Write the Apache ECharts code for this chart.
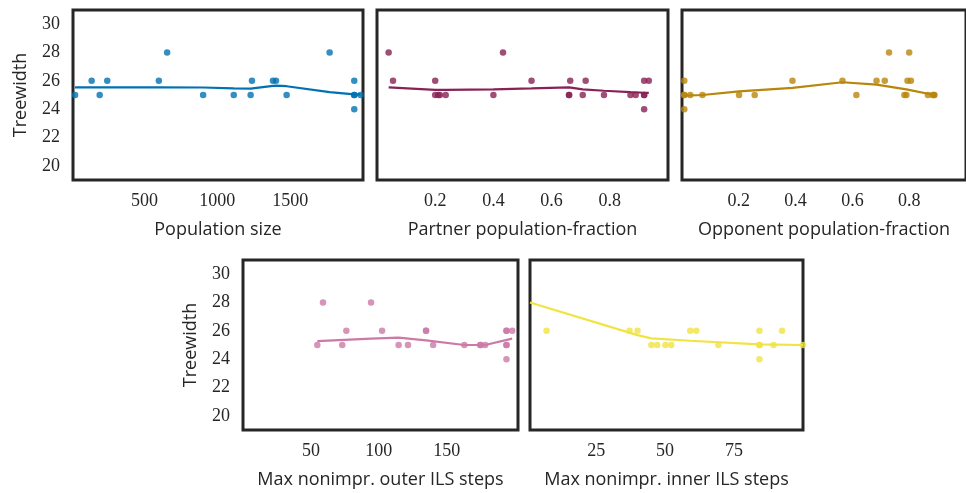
<!DOCTYPE html>
<html>
<head>
<meta charset="utf-8">
<script src="https://cdn.jsdelivr.net/npm/echarts@6/dist/echarts.min.js"></script>
<style>
  html, body { margin: 0; padding: 0; background: #fff; }
  #chart { width: 966px; height: 493px; }
</style>
</head>
<body>
<div id="chart"></div>
<script>
// tick labels
const yTicks = [20, 22, 24, 26, 28, 30];
const popTicks = [500, 1000, 1500];
const fracTicks = [0.2, 0.4, 0.6, 0.8];
const outerTicks = [50, 100, 150];
const innerTicks = [25, 50, 75];

// Population size
const popX = [24, 138, 193, 245, 599, 656, 903, 1113, 1229, 1238, 1382, 1403, 1476, 1771, 1940, 1940, 1940, 1940, 1983];
const popY = [25, 26, 25, 26, 26, 28, 25, 25, 25, 26, 26, 26, 25, 28, 26, 25, 25, 24, 25];
const popTrendX = [24, 600, 903, 1113, 1229, 1382, 1403, 1476, 1771, 1940, 1983];
const popTrendY = [25.54, 25.54, 25.53, 25.47, 25.45, 25.65, 25.66, 25.62, 25.2, 25.05, 25.05];

// Partner population-fraction
const partX = [0.04, 0.055, 0.2, 0.2, 0.21, 0.216, 0.236, 0.4, 0.433, 0.531, 0.66, 0.66, 0.664, 0.707, 0.717, 0.78, 0.871, 0.889, 0.918, 0.918, 0.918, 0.918, 0.934];
const partY = [28, 26, 26, 25, 25, 25, 25, 25, 28, 26, 25, 25, 26, 25, 26, 25, 25, 25, 25, 25, 26, 24, 26];
const partTrendX = [0.04, 0.2, 0.236, 0.4, 0.531, 0.66, 0.707, 0.78, 0.871, 0.918, 0.934];
const partTrendY = [25.54, 25.36, 25.36, 25.4, 25.47, 25.54, 25.4, 25.3, 25.2, 25.16, 25.15];

// Opponent population-fraction
const oppX = [0.008, 0.008, 0.008, 0.008, 0.029, 0.072, 0.201, 0.256, 0.389, 0.565, 0.614, 0.685, 0.714, 0.729, 0.783, 0.79, 0.794, 0.8, 0.806, 0.866, 0.883, 0.888, 0.888];
const oppY = [26, 25, 24, 25, 25, 25, 25, 25, 26, 26, 25, 26, 26, 28, 25, 25, 26, 28, 26, 25, 25, 25, 25];
const oppTrendX = [0.008, 0.072, 0.201, 0.389, 0.565, 0.685, 0.79, 0.888];
const oppTrendY = [24.95, 25.0, 25.25, 25.5, 25.9, 25.73, 25.4, 25.0];

// Max nonimpr. outer ILS steps
const outerX = [54.7, 58.9, 73.1, 76.1, 94.3, 102.4, 114.6, 121.5, 134.8, 134.8, 140, 163, 174.8, 174.8, 178.3, 194, 194, 194, 194, 194, 198.2];
const outerY = [25, 28, 25, 26, 28, 26, 25, 25, 26, 26, 25, 25, 25, 25, 25, 26, 26, 25, 25, 24, 26];
const outerTrendX = [54.7, 94.3, 114.6, 134.8, 163, 178.3, 198.2];
const outerTrendY = [25.28, 25.45, 25.52, 25.33, 25.0, 25.0, 25.45];

// Max nonimpr. inner ILS steps
const innerX = [7, 37.1, 40, 45, 47.1, 50.1, 52.2, 59.1, 61.3, 69.3, 84.2, 84.2, 84.2, 84.2, 89.3, 92.4, 100];
const innerY = [26, 26, 26, 25, 25, 25, 25, 26, 26, 25, 26, 25, 25, 24, 25, 26, 25];
const innerTrendX = [1, 40, 45, 59.1, 84.2, 100];
const innerTrendY = [28, 25.7, 25.47, 25.3, 25.05, 25.0];

const zip = (xs, ys) => xs.map((x, i) => [x, ys[i]]);

const tickFont = { fontFamily: 'Liberation Serif', fontSize: 18, color: '#262626' };
const nameFont = { fontFamily: 'Open Sans', fontSize: 18, color: '#262626' };

const panels = [
  { name: 'Population size', min: 10, max: 2000, ticks: popTicks, color: '#0072b2', x: popX, y: popY, tx: popTrendX, ty: popTrendY, rect: { left: 73, top: 10, width: 290, height: 170 }, yLabels: true },
  { name: 'Partner population-fraction', min: 0, max: 1, ticks: fracTicks, color: '#882255', x: partX, y: partY, tx: partTrendX, ty: partTrendY, rect: { left: 377, top: 10, width: 291, height: 170 }, yLabels: false },
  { name: 'Opponent population-fraction', min: 0, max: 1, ticks: fracTicks, color: '#b8860b', x: oppX, y: oppY, tx: oppTrendX, ty: oppTrendY, rect: { left: 682, top: 10, width: 292, height: 170 }, yLabels: false },
  { name: 'Max nonimpr. outer ILS steps', min: 0, max: 202.5, ticks: outerTicks, color: '#cc79a7', x: outerX, y: outerY, tx: outerTrendX, ty: outerTrendY, rect: { left: 243, top: 260, width: 275, height: 170 }, yLabels: true },
  { name: 'Max nonimpr. inner ILS steps', min: 1, max: 100, ticks: innerTicks, color: '#f0e442', x: innerX, y: innerY, tx: innerTrendX, ty: innerTrendY, rect: { left: 530, top: 260, width: 273, height: 170 }, yLabels: false }
];

const chart = echarts.init(document.getElementById('chart'), null, { renderer: 'canvas' });

const option = {
  animation: false,
  grid: panels.map(p => Object.assign({
    show: true,
    borderColor: '#262626',
    borderWidth: 3,
    backgroundColor: 'transparent'
  }, p.rect)),
  xAxis: panels.map((p, i) => ({
    type: 'value',
    gridIndex: i,
    min: p.min,
    max: p.max,
    name: p.name,
    nameLocation: 'middle',
    nameGap: 41,
    nameTextStyle: nameFont,
    axisLine: { show: false },
    axisTick: { show: false },
    splitLine: { show: false },
    axisLabel: Object.assign({ customValues: p.ticks, margin: 12, formatter: v => String(v) }, tickFont)
  })),
  yAxis: panels.map((p, i) => ({
    type: 'value',
    gridIndex: i,
    min: 19,
    max: 31,
    name: p.yLabels ? 'Treewidth' : '',
    nameLocation: 'middle',
    nameRotate: 90,
    nameGap: 43,
    nameTextStyle: nameFont,
    axisLine: { show: false },
    axisTick: { show: false },
    splitLine: { show: false },
    axisLabel: Object.assign({ show: p.yLabels, customValues: yTicks, margin: 13 }, tickFont)
  })),
  series: panels.flatMap((p, i) => [
    {
      type: 'scatter',
      xAxisIndex: i,
      yAxisIndex: i,
      data: zip(p.x, p.y),
      symbolSize: 6.5,
      clip: true,
      itemStyle: { color: p.color, opacity: 0.8 }
    },
    {
      type: 'line',
      xAxisIndex: i,
      yAxisIndex: i,
      data: zip(p.tx, p.ty),
      showSymbol: false,
      clip: true,
      lineStyle: { color: p.color, width: 2.2 }
    }
  ])
};

chart.setOption(option);
</script>
</body>
</html>
